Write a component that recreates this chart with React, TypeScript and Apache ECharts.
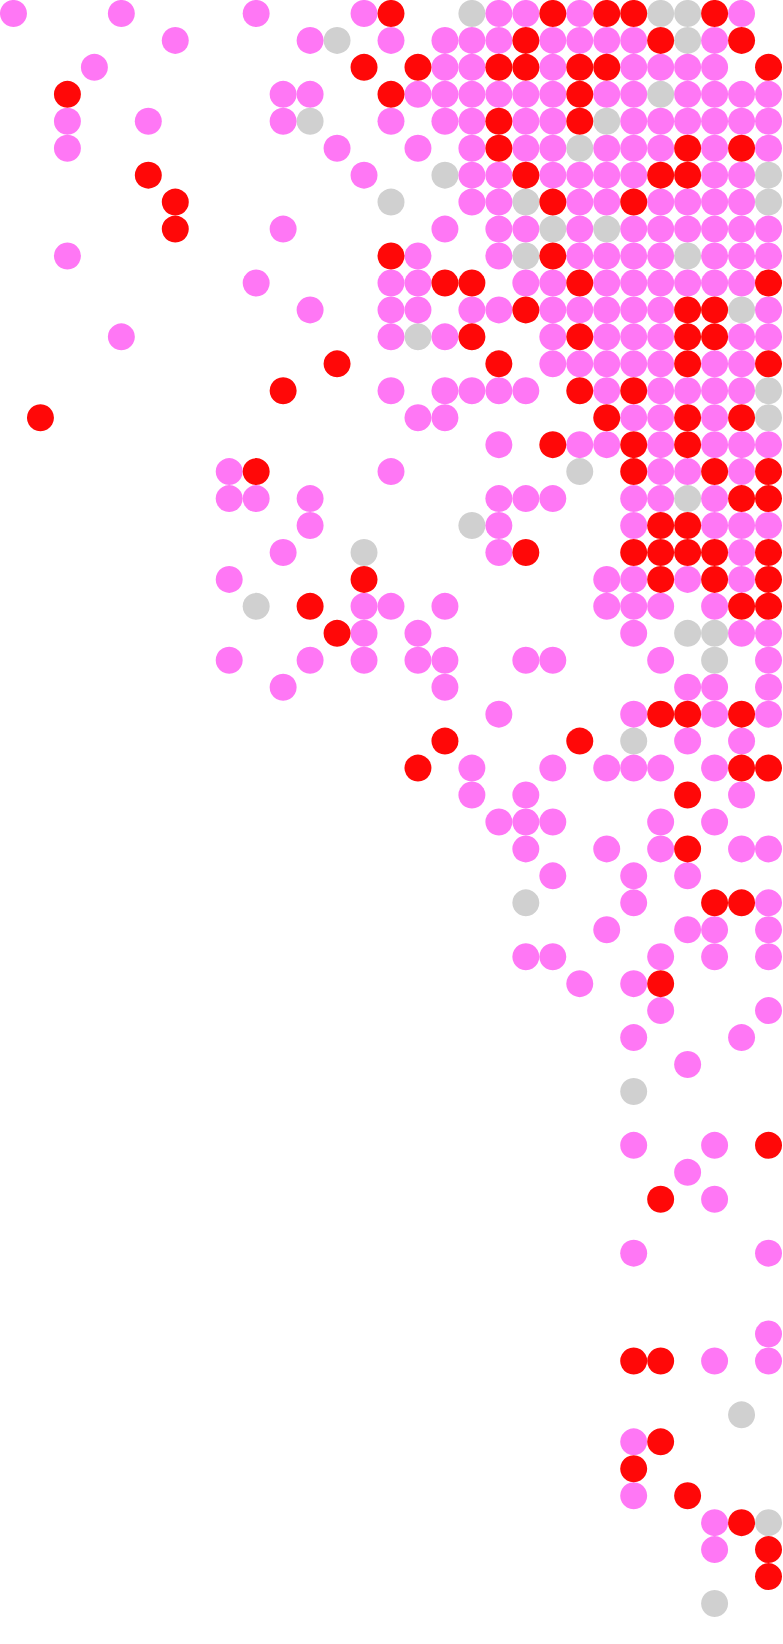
import React, { useEffect, useRef } from "react";
import * as echarts from "echarts";

// Column indices (0..28) of dots in each row (0..59), one list per category.
const pinkRows: number[][] = [
  [0, 4, 9, 13, 18, 19, 21, 27],
  [6, 11, 14, 16, 17, 18, 20, 21, 22, 23, 26],
  [3, 16, 17, 20, 23, 24, 25, 26],
  [10, 11, 15, 16, 17, 18, 19, 20, 22, 23, 25, 26, 27, 28],
  [2, 5, 10, 14, 16, 17, 19, 20, 23, 24, 25, 26, 27, 28],
  [2, 12, 15, 17, 19, 20, 22, 23, 24, 26, 28],
  [13, 17, 18, 20, 21, 22, 23, 26, 27],
  [17, 18, 21, 22, 24, 25, 26, 27],
  [10, 16, 18, 19, 21, 23, 24, 25, 26, 27, 28],
  [2, 15, 18, 21, 22, 23, 24, 26, 27, 28],
  [9, 14, 15, 19, 20, 22, 23, 24, 25, 26, 27],
  [11, 14, 15, 17, 18, 20, 21, 22, 23, 24, 28],
  [4, 14, 16, 20, 22, 23, 24, 27, 28],
  [20, 21, 22, 23, 24, 26, 27],
  [14, 16, 17, 18, 19, 22, 24, 25, 26, 27],
  [15, 16, 23, 24, 26],
  [18, 21, 22, 24, 26, 27, 28],
  [8, 14, 24, 25, 27],
  [8, 9, 11, 18, 19, 20, 23, 24, 26],
  [11, 18, 23, 26, 27, 28],
  [10, 18, 27],
  [8, 22, 23, 25, 27],
  [13, 14, 16, 22, 23, 24, 26],
  [13, 15, 23, 27, 28],
  [8, 11, 13, 15, 16, 19, 20, 24, 28],
  [10, 16, 25, 26, 28],
  [18, 23, 26, 28],
  [25, 27],
  [17, 20, 22, 23, 24, 26],
  [17, 19, 27],
  [18, 19, 20, 24, 26],
  [19, 22, 24, 27, 28],
  [20, 23, 25],
  [23, 28],
  [22, 25, 26, 28],
  [19, 20, 24, 26, 28],
  [21, 23],
  [24, 28],
  [23, 27],
  [25],
  [],
  [],
  [23, 26],
  [25],
  [26],
  [],
  [23, 28],
  [],
  [],
  [28],
  [26, 28],
  [],
  [],
  [23],
  [],
  [23],
  [26],
  [26],
  [],
  [],
];

const redRows: number[][] = [
  [14, 20, 22, 23, 26],
  [19, 24, 27],
  [13, 15, 18, 19, 21, 22, 28],
  [2, 14, 21],
  [18, 21],
  [18, 25, 27],
  [5, 19, 24, 25],
  [6, 20, 23],
  [6],
  [14, 20],
  [16, 17, 21, 28],
  [19, 25, 26],
  [17, 21, 25, 26],
  [12, 18, 25, 28],
  [10, 21, 23],
  [1, 22, 25, 27],
  [20, 23, 25],
  [9, 23, 26, 28],
  [27, 28],
  [24, 25],
  [19, 23, 24, 25, 26, 28],
  [13, 24, 26, 28],
  [11, 27, 28],
  [12],
  [],
  [],
  [24, 25, 27],
  [16, 21],
  [15, 27, 28],
  [25],
  [],
  [25],
  [],
  [26, 27],
  [],
  [],
  [24],
  [],
  [],
  [],
  [],
  [],
  [28],
  [],
  [24],
  [],
  [],
  [],
  [],
  [],
  [23, 24],
  [],
  [],
  [24],
  [23],
  [25],
  [27],
  [28],
  [28],
  [],
];

const greyRows: number[][] = [
  [17, 24, 25],
  [12, 25],
  [],
  [24],
  [11, 22],
  [21],
  [16, 28],
  [14, 19, 28],
  [20, 22],
  [19, 25],
  [],
  [27],
  [15],
  [],
  [28],
  [28],
  [],
  [21],
  [25],
  [17],
  [13],
  [],
  [9],
  [25, 26],
  [26],
  [],
  [],
  [23],
  [],
  [],
  [],
  [],
  [],
  [19],
  [],
  [],
  [],
  [],
  [],
  [],
  [23],
  [],
  [],
  [],
  [],
  [],
  [],
  [],
  [],
  [],
  [],
  [],
  [27],
  [],
  [],
  [],
  [28],
  [],
  [],
  [26],
];

const COLS = 29;
const ROWS = 60;

function toPoints(rows: number[][]): number[][] {
  const pts: number[][] = [];
  rows.forEach((cols, r) => cols.forEach((c) => pts.push([c, r])));
  return pts;
}

export default function App() {
  const ref = useRef<HTMLDivElement>(null);
  useEffect(() => {
    if (!ref.current) return;
    const chart = echarts.init(ref.current, null, { renderer: "svg" });
    const mk = (name: string, rows: number[][], color: string) => ({
      name,
      type: "scatter",
      symbol: "circle",
      symbolSize: 27,
      clip: false,
      data: toPoints(rows),
      itemStyle: { color, opacity: 1 },
      emphasis: { disabled: true },
    });
    chart.setOption({
      animation: false,
      backgroundColor: "#ffffff",
      grid: { left: -1, top: -3, width: 783, height: 1620 },
      xAxis: {
        type: "value",
        min: -0.5,
        max: COLS - 0.5,
        show: false,
      },
      yAxis: {
        type: "value",
        min: -0.5,
        max: ROWS - 0.5,
        inverse: true,
        show: false,
      },
      series: [
        mk("grey", greyRows, "#d0d0d0"),
        mk("pink", pinkRows, "#ff77f5"),
        mk("red", redRows, "#ff0808"),
      ],
    });
    return () => chart.dispose();
  }, []);
  return (
    <div
      ref={ref}
      style={{ position: "absolute", left: 0, top: 0, width: 783, height: 1644 }}
    />
  );
}
